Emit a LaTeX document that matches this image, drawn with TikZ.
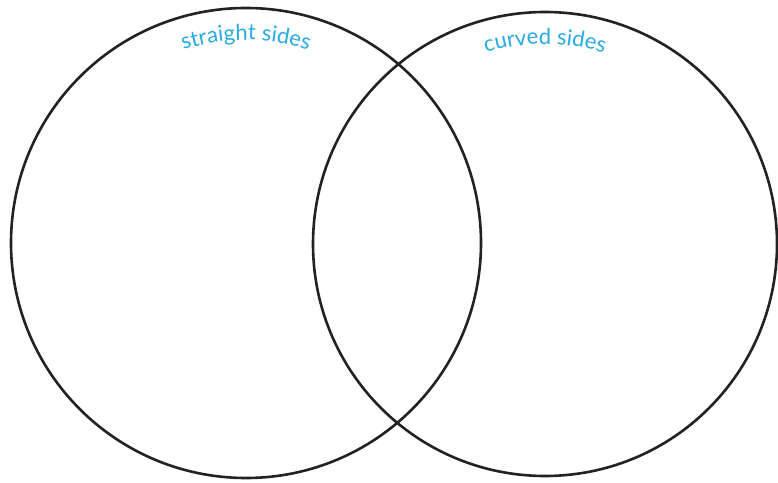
\documentclass[tikz,border=0pt]{standalone}
\usepackage{fontspec}
\setmainfont{Lato}
\usetikzlibrary{positioning, decorations.text}
\definecolor{vennblue}{RGB}{41,171,226}
\definecolor{venndark}{RGB}{34,34,34}
\tikzset{
    vennring/.style={circle, draw=venndark, line width=2.6pt, minimum size=#1, inner sep=0pt},
    setlabel/.style={decorate, decoration={text along path, text align=center, text={|\fontsize{22}{22}\selectfont\color{vennblue}|#1}}}
}
\begin{document}
\begin{tikzpicture}[x=1pt, y=1pt]
            \useasboundingbox (0,0) rectangle (778,482);

            % The two sets
            \node[vennring=470pt] (straight) at (246,239) {};
            \node[vennring=464pt] (curved) at (545,238) {};

            % Arched labels along the top of each ring
            \path[setlabel={straight sides}] ([shift={(115:203)}]straight.center) arc (115:65:203);
            \path[setlabel={curved sides}] ([shift={(113:200)}]curved.center) arc (113:67:200);
        \end{tikzpicture}
\end{document}
